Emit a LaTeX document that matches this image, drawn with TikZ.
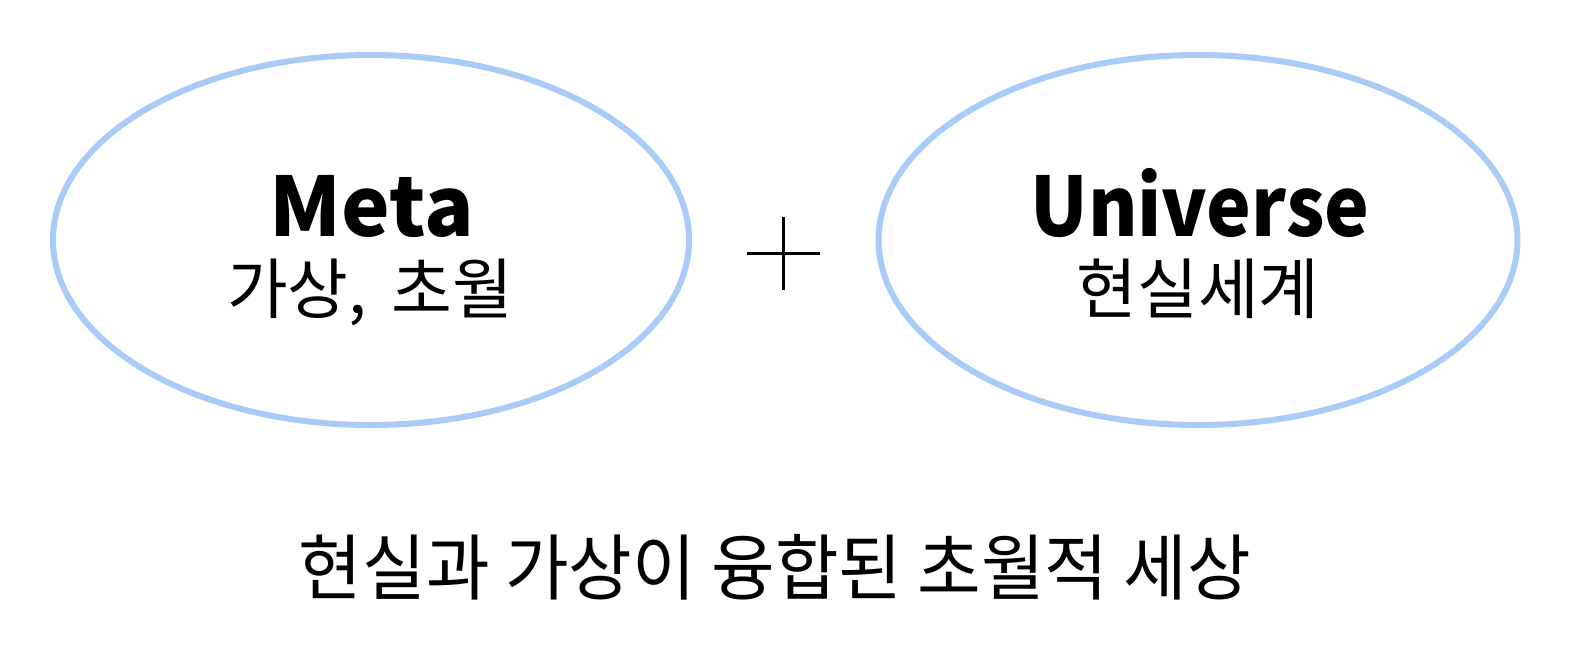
\documentclass[tikz,border=0pt]{standalone}
\usepackage{fontspec}
\setmainfont{Noto Sans CJK KR}
\usetikzlibrary{shapes.geometric}
\definecolor{ringblue}{HTML}{A8CBF8}
\tikzset{
  ring/.style={ellipse, draw=ringblue, line width=6pt, inner sep=0pt},
  title/.style={anchor=base, inner sep=0pt, font=\fontsize{82}{90}\selectfont\bfseries},
  sub/.style={anchor=base, inner sep=0pt, font=\fontsize{66}{72}\selectfont},
  plusline/.style={line width=3pt, black}
}
\begin{document}
\begin{tikzpicture}[x=1pt,y=-1pt]
\useasboundingbox (0,0) rectangle (1578,656);
\node[ring, minimum width=636pt, minimum height=370pt] (left) at (371,240) {};
\node[ring, minimum width=639pt, minimum height=370pt] (right) at (1198,240) {};
\node[title] (meta) at (372,236) {Meta};
\node[sub] (metasub) at (370,313) {가상,\hspace{0.15em} 초월};
\node[title] (uni) at (1200,236) {\scalebox{0.92}[1]{Universe}};
\node[sub] (unisub) at (1198,313) {현실세계};
\coordinate (pl) at (747,253);
\coordinate (pr) at (820,253);
\coordinate (pt) at (783,217);
\coordinate (pb) at (783,290);
\draw[plusline] (pl) -- (pr);
\draw[plusline] (pt) -- (pb);
\node[sub, font=\fontsize{72}{78}\selectfont] (caption) at (775,594) {\scalebox{0.96}[1]{현실과 가상이 융합된 초월적 세상}};
\end{tikzpicture}
\end{document}
